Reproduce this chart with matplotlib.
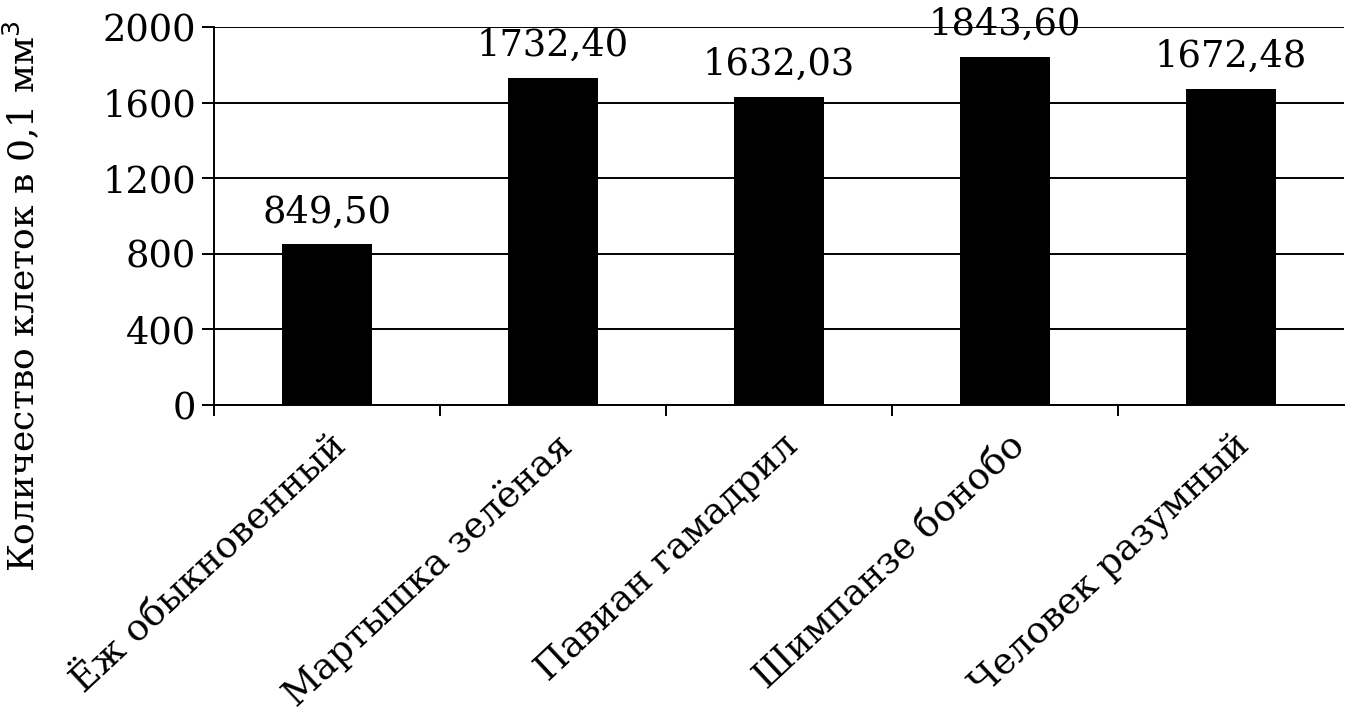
import matplotlib
matplotlib.use("Agg")
import matplotlib.pyplot as plt
import matplotlib.transforms as mtransforms
import numpy as np

categories = ["Ёж обыкновенный", "Мартышка зелёная", "Павиан гамадрил",
              "Шимпанзе бонобо", "Человек разумный"]
values = [849.50, 1732.40, 1632.03, 1843.60, 1672.48]
value_labels = ["849,50", "1732,40", "1632,03", "1843,60", "1672,48"]
yticks = [0, 400, 800, 1200, 1600, 2000]
ylabel = "Количество клеток в 0,1 мм$^3$"

plt.rcParams['font.family'] = ['DejaVu Serif']

fig = plt.figure(figsize=(13.51, 7.11), dpi=100)
ax = fig.add_axes([214/1351, 1-405/711, 1130/1351, 378/711])

x = np.arange(len(categories))
ax.bar(x, values, width=0.40, color='black', zorder=3)

for xi, v, lab in zip(x, values, value_labels):
    ax.annotate(lab, (xi, v), xytext=(0, 10), textcoords='offset points',
                ha='center', va='bottom', fontsize=26.5, clip_on=False)

ax.set_xlim(-0.5, len(categories)-0.5)
ax.set_ylim(0, 2000)
ax.set_yticks(yticks)
ax.set_yticklabels([str(t) for t in yticks], fontsize=26.5)
ax.yaxis.grid(True, color='black', linewidth=1.4, zorder=0)
ax.set_axisbelow(True)

for s in ['top', 'right']:
    ax.spines[s].set_visible(False)
ax.spines['left'].set_linewidth(1.4)
ax.spines['bottom'].set_linewidth(1.4)

ax.tick_params(axis='y', length=9, width=1.4, pad=4)
ax.set_xticks(x)
ax.set_xticklabels(categories, fontsize=26.5, rotation=43, ha='right',
                   rotation_mode='anchor')
ax.tick_params(axis='x', which='major', length=0, pad=16)
ax.set_xticks(np.arange(-0.5, len(categories)-1, 1.0), minor=True)
ax.tick_params(axis='x', which='minor', length=8, width=1.4)

offset = mtransforms.ScaledTranslation(2/100, 0, fig.dpi_scale_trans)
for lbl in ax.get_xticklabels():
    lbl.set_transform(lbl.get_transform() + offset)

fig.text(21/1351, 1-296/711, ylabel, rotation=90, ha='center', va='center',
         fontsize=26)

fig.savefig("out.png", dpi=100, facecolor='white')
